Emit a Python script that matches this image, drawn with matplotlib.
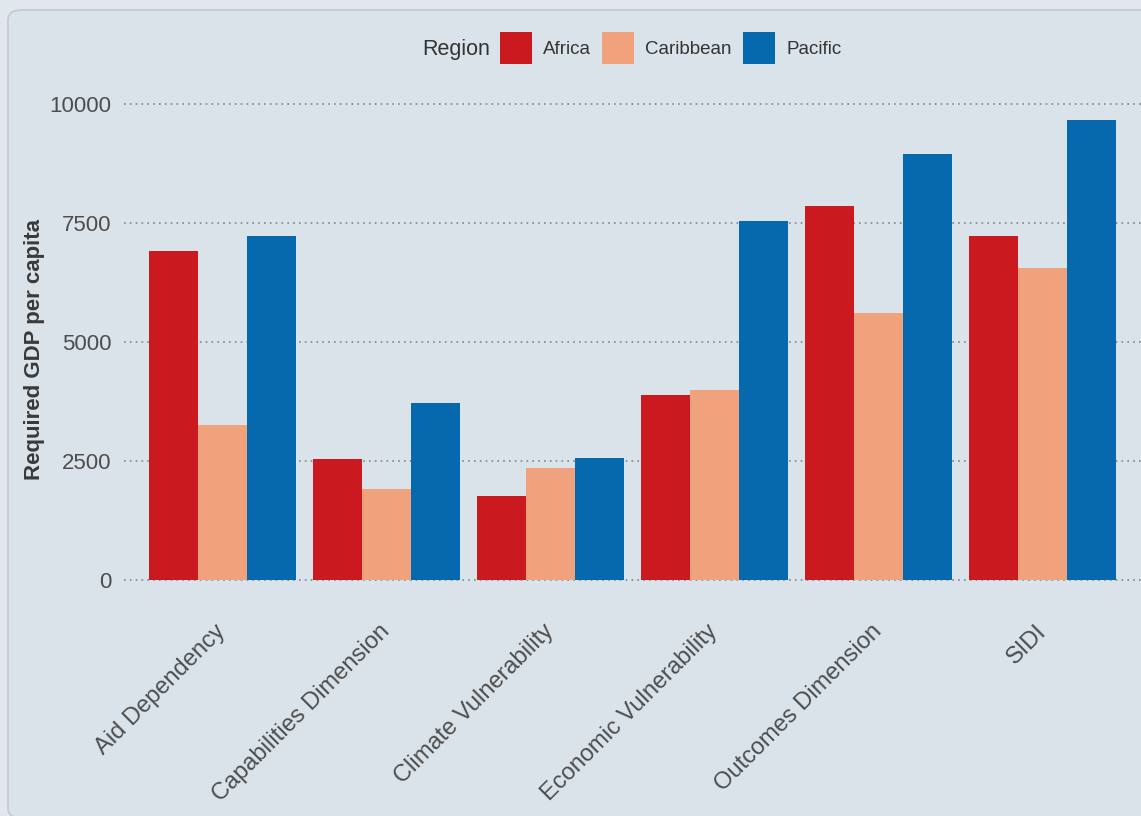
import numpy as np
import matplotlib
matplotlib.use("Agg")
import matplotlib.pyplot as plt
import matplotlib.patches as patches

# data
categories = ["Aid Dependency", "Capabilities Dimension", "Climate Vulnerability",
              "Economic Vulnerability", "Outcomes Dimension", "SIDI"]
regions = ["Africa", "Caribbean", "Pacific"]
africa = [6910, 2540, 1770, 3890, 7860, 7230]
caribbean = [3260, 1910, 2350, 3990, 5610, 6560]
pacific = [7230, 3720, 2560, 7540, 8950, 9660]
yticks = [0, 2500, 5000, 7500, 10000]

colors = ["#cb1a1f", "#f0a27c", "#0769ad"]
bg = "#dbe3ea"

plt.rcParams["font.family"] = ["Liberation Sans", "DejaVu Sans"]

W, H = 1141, 816
fig = plt.figure(figsize=(W / 100, H / 100), dpi=100)
fig.patch.set_facecolor("#e1e7ed")

# rounded panel behind everything
panel = patches.FancyBboxPatch((8 / W, 1 - 818 / H), 1.2, 808 / H,
                               boxstyle="round,pad=0,rounding_size=0.012",
                               transform=fig.transFigure, facecolor=bg,
                               edgecolor="#c3cad1", linewidth=1.2, zorder=-10)
fig.patches.append(panel)

# axes placed in pixel terms
left, right, top, bottom = 124, 1141, 97, 603
ax = fig.add_axes([left / W, 1 - bottom / H, (right - left) / W, (bottom - top) / H])
ax.set_facecolor("none")

x = np.arange(len(categories))
w = 0.3
for i, (vals, c, name) in enumerate(zip([africa, caribbean, pacific], colors, regions)):
    ax.bar(x + (i - 1) * w, vals, width=w, color=c, label=name, zorder=2)

ax.set_xlim(-0.6, len(categories) - 0.4)
ax.set_ylim(-480, 10150)
ax.set_yticks(yticks)
ax.set_yticklabels([str(t) for t in yticks])
ax.set_xticks(x)
ax.set_xticklabels(categories, rotation=45, ha="right", rotation_mode="anchor",
                   va="center", fontsize=17)
ax.tick_params(axis="both", length=0, labelcolor="#4d4d4d")
ax.tick_params(axis="y", pad=9, labelsize=16)
ax.tick_params(axis="x", pad=18)

for t in yticks:
    ax.axhline(t, color="#7f858c", linestyle=(0, (1, 2.5)), linewidth=1.2, zorder=1)

for s in ax.spines.values():
    s.set_visible(False)

ax.set_ylabel("Required GDP per capita", fontsize=16, fontweight="bold",
              color="#3a3a3a", labelpad=3)

# legend with title on the left, as in the reference
fig.text(490 / W, 1 - 50 / H, "Region", fontsize=15.5, color="#333333",
         ha="right", va="center")
handles, labels = ax.get_legend_handles_labels()
fig.legend(handles, labels, loc="center left", bbox_to_anchor=(500 / W, 1 - 48 / H),
           ncol=3, frameon=False, fontsize=13.5, handlelength=1.7,
           handleheight=2.3, handletextpad=0.6, columnspacing=0.6,
           labelcolor="#333333", borderaxespad=0, borderpad=0)

fig.savefig("out.png", dpi=100, facecolor=fig.get_facecolor())
